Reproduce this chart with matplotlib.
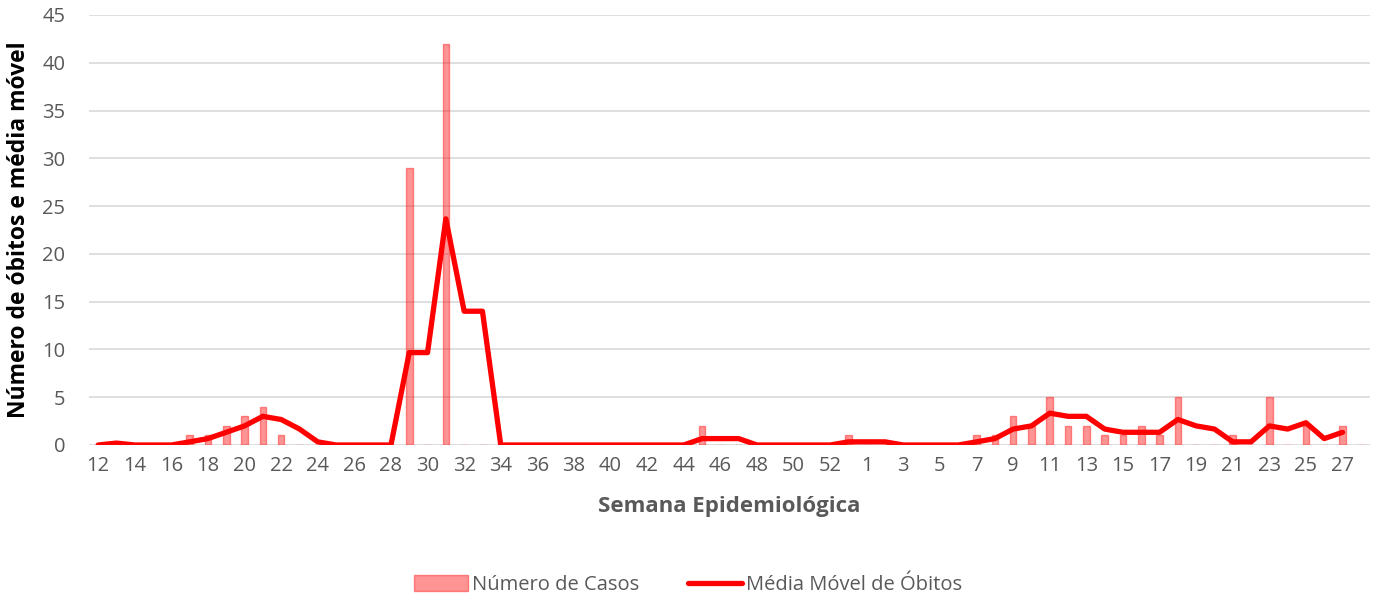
import matplotlib
matplotlib.use("Agg")
import matplotlib.pyplot as plt
from matplotlib.lines import Line2D
from matplotlib.patches import Patch

# Epidemiological weeks (2020: 12..53, 2021: 1..28; week 28 has no data yet)
weeks = [str(w) for w in range(12, 54)] + [str(w) for w in range(1, 29)]

# Número de Casos (bars)
casos = [0, 0, 0, 0, 0, 1, 1, 2, 3, 4, 1, 0, 0, 0, 0, 0, 0, 29, 0, 42,   # 12-31
         0, 0, 0, 0, 0, 0, 0, 0, 0, 0, 0, 0, 0, 2, 0, 0, 0, 0, 0, 0,      # 32-51
         0, 1,                                                             # 52-53
         0, 0, 0, 0, 0, 0, 1, 1, 3, 2, 5, 2, 2, 1, 1, 2, 1, 5, 0, 0,      # 1-20
         1, 0, 5, 0, 2, 0, 2, 0]                                           # 21-28

# Média Móvel de Óbitos (line) (None = no value)
media = [0.0, 0.2, 0.0, 0.0, 0.0, 0.33, 0.67, 1.33, 2.0, 3.0, 2.67, 1.67, 0.33, 0.0, 0.0, 0.0, 0.0,
         9.67, 9.67, 23.67, 14.0, 14.0, 0.0, 0.0, 0.0, 0.0, 0.0, 0.0, 0.0, 0.0, 0.0, 0.0, 0.0,
         0.67, 0.67, 0.67, 0.0, 0.0, 0.0, 0.0, 0.0, 0.33,
         0.33, 0.33, 0.0, 0.0, 0.0, 0.0, 0.33, 0.67, 1.67, 2.0, 3.33, 3.0, 3.0, 1.67, 1.33, 1.33,
         1.33, 2.67, 2.0, 1.67, 0.33, 0.33, 2.0, 1.67, 2.33, 0.67, 1.33, None]

y_ticks = [0, 5, 10, 15, 20, 25, 30, 35, 40, 45]

FONT = "Open Sans"
plt.rcParams['font.family'] = [FONT, 'DejaVu Sans']

fig = plt.figure(figsize=(13.76, 5.99), dpi=100)
ax = fig.add_axes([89/1376, 154/599, (1370-89)/1376, (445-15)/599])

x = list(range(len(weeks)))
media_plot = [float('nan') if v is None else v for v in media]
ax.bar(x, casos, width=0.36, facecolor=(1, 0, 0, 0.42), edgecolor=(1, 0.2, 0.2, 0.55),
       linewidth=1.0, zorder=2)
ax.plot(x, media_plot, color='#FF0000', linewidth=3.8, solid_joinstyle='round',
        solid_capstyle='round', zorder=3)

ax.set_xlim(-0.5, len(weeks) - 0.5)
ax.set_ylim(0, 45)
ax.set_yticks(y_ticks)
ax.set_xticks(x[::2])
ax.set_xticklabels(weeks[::2])
ax.tick_params(axis='both', length=0, labelsize=14.5, colors='#595959')
ax.tick_params(axis='x', pad=8)
ax.tick_params(axis='y', pad=17)
ax.grid(axis='y', color='#D9D9D9', linewidth=1.2, zorder=0)
ax.set_axisbelow(True)
for s in ax.spines.values():
    s.set_visible(False)

ax.set_xlabel('Semana Epidemiológica', fontsize=16, fontweight='bold', color='#595959', labelpad=14)
ax.set_ylabel('Número de óbitos e média móvel', fontsize=16.5, fontweight='bold', color='black', labelpad=8)

handles = [Patch(facecolor=(1, 0, 0, 0.42), edgecolor=(1, 0.2, 0.2, 0.55), label='Número de Casos'),
           Line2D([0], [0], color='#FF0000', linewidth=3.8, solid_capstyle='round', label='Média Móvel de Óbitos')]
leg = fig.legend(handles=handles, loc='center', bbox_to_anchor=(688/1376, 1 - 585/599), ncol=2,
                 frameon=False, fontsize=14.5, handlelength=2.7, handleheight=0.8, columnspacing=2.4,
                 handletextpad=0.2)
for t in leg.get_texts():
    t.set_color('#595959')

fig.savefig('out.png', dpi=100)
